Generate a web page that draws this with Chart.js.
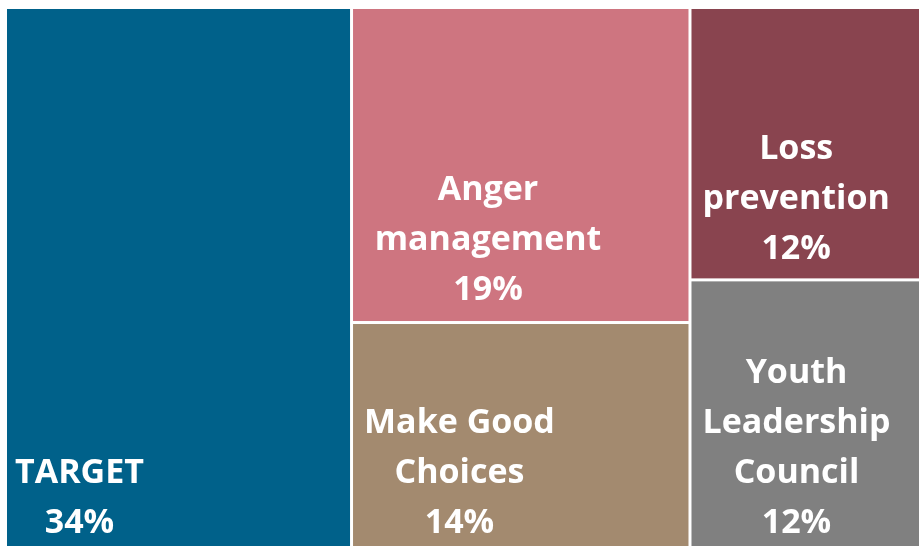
<!DOCTYPE html>
<html>
<head>
<meta charset="utf-8">
<script src="https://cdn.jsdelivr.net/npm/chart.js@4/dist/chart.umd.min.js"></script>
<style>
  html, body { margin: 0; padding: 0; background: #fff; }
  #wrap { width: 919px; height: 546px; }
</style>
</head>
<body>
<div id="wrap"><canvas id="tree"></canvas></div>
<script>
// treemap cells, in layout order
const names = ["TARGET", "Anger management", "Make Good Choices", "Loss prevention", "Youth Leadership Council"];
const labelLines = [["TARGET"], ["Anger", "management"], ["Make Good", "Choices"], ["Loss", "prevention"], ["Youth", "Leadership", "Council"]];
const shares = ["34%", "19%", "14%", "12%", "12%"];
// relative areas
const areas = [34, 19.5, 13.9, 11.4, 11.2];
const colours = ["#00618a", "#ce7580", "#a38a6f", "#89444f", "#808080"];
// which cells stack in which column
const columns = [[0], [1, 2], [3, 4]];

const total = areas.reduce((a, b) => a + b, 0);

// label block placement per cell: left pad (or centre), gap below last baseline
const placement = [
  {pad: 8, gap: 13},
  {centre: 488, gap: 21},
  {pad: 11, gap: 13},
  {pad: 11, gap: 19},
  {pad: 11, gap: 13}
];

const GAP = 3;
const FONT = "bold 34px 'Open Sans'";

const treemapPlugin = {
  id: 'treemap',
  beforeDatasetsDraw(chart) {
    const ctx = chart.ctx;
    const xs = chart.scales.x, ys = chart.scales.y;
    const area = chart.chartArea;
    let xStart = 0;
    columns.forEach(col => {
      const colSum = col.reduce((s, i) => s + areas[i], 0);
      const xEnd = xStart + colSum;
      let yStart = 100;
      col.forEach(i => {
        const yEnd = yStart - 100 * areas[i] / colSum;
        let l = xs.getPixelForValue(xStart), r = xs.getPixelForValue(xEnd);
        let t = ys.getPixelForValue(yStart), b = ys.getPixelForValue(yEnd);
        if (l > area.left + 1) l += GAP / 2;
        if (r < area.right - 1) r -= GAP / 2;
        if (t > area.top + 1) t += GAP / 2;
        if (b < area.bottom - 1) b -= GAP / 2;
        ctx.save();
        ctx.fillStyle = colours[i];
        ctx.fillRect(l, t, r - l, b - t);

        // label
        const lines = labelLines[i].concat([shares[i]]);
        ctx.font = FONT;
        ctx.fillStyle = '#fff';
        ctx.textAlign = 'center';
        ctx.textBaseline = 'alphabetic';
        const p = placement[i];
        const w = Math.max(...lines.map(s => ctx.measureText(s).width));
        const cx = p.centre !== undefined ? p.centre : l + p.pad + w / 2;
        const lineH = 50;
        lines.forEach((s, k) => {
          const y = b - p.gap - (lines.length - 1 - k) * lineH;
          ctx.fillText(s, cx, y);
        });
        ctx.restore();
        yStart = yEnd;
      });
      xStart = xEnd;
    });
  }
};

new Chart(document.getElementById('tree'), {
  type: 'scatter',
  data: { datasets: [{ data: [] }] },
  options: {
    responsive: true,
    maintainAspectRatio: false,
    animation: false,
    layout: { padding: { left: 7, top: 9, right: 0, bottom: 0 } },
    plugins: { legend: { display: false }, tooltip: { enabled: false } },
    scales: {
      x: { type: 'linear', min: 0, max: total, display: false },
      y: { type: 'linear', min: 0, max: 100, display: false }
    }
  },
  plugins: [treemapPlugin]
});
</script>
</body>
</html>
